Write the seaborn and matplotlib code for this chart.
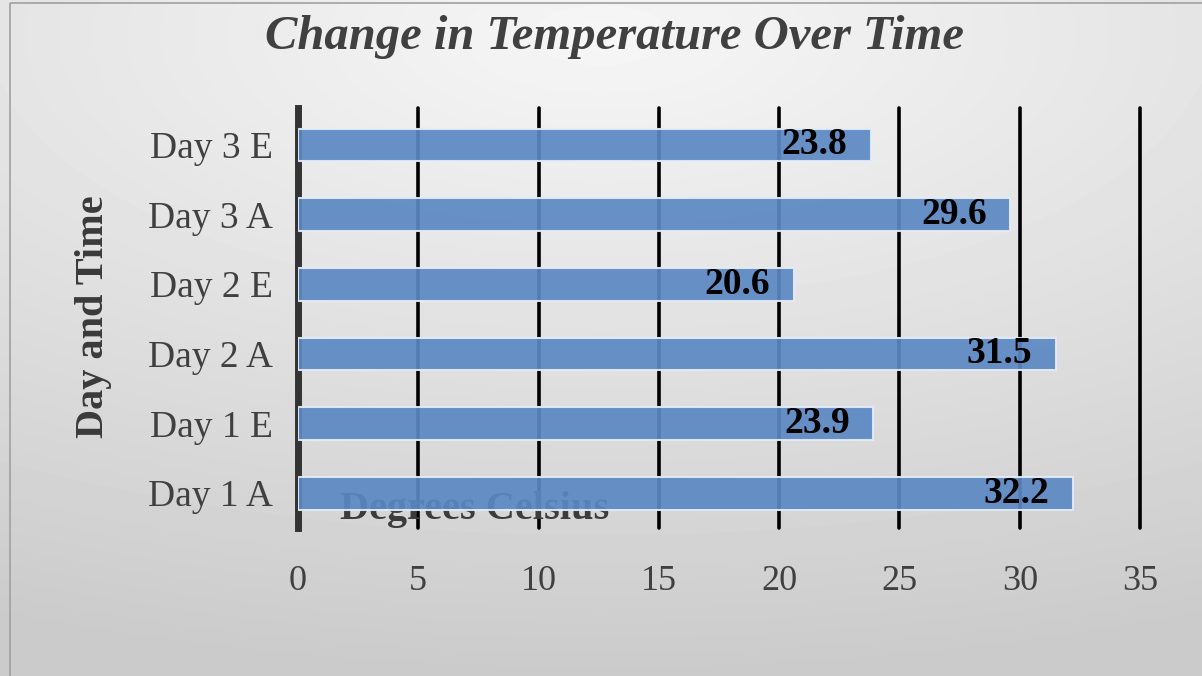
import numpy as np
import matplotlib
matplotlib.use("Agg")
import matplotlib.pyplot as plt
import seaborn as sns
from matplotlib.patches import Rectangle

# data
categories = ["Day 1 A", "Day 1 E", "Day 2 A", "Day 2 E", "Day 3 A", "Day 3 E"]
temps = [32.2, 23.9, 31.5, 20.6, 29.6, 23.8]
xticks = [0, 5, 10, 15, 20, 25, 30, 35]

BAR = "#5b88c3"
TXT = "#404040"

sns.set_style("white")
plt.rcParams["font.family"] = ["Liberation Serif", "DejaVu Serif"]

fig = plt.figure(figsize=(12.02, 6.76), dpi=100)

# gradient background, light at the top, gray at the bottom
bg = fig.add_axes([0, 0, 1, 1], zorder=-5)
yy, xx = np.mgrid[0:1:200j, 0:1:300j]
r = np.sqrt((xx - 0.5) ** 2 * 0.6 + (yy - 0.05) ** 2)
shade = 0.965 - 0.17 * np.clip(r / 0.95, 0, 1)
bg.imshow(shade, cmap="gray", vmin=0, vmax=1, aspect="auto",
          extent=[0, 1, 1, 0], interpolation="bicubic")
bg.set_xlim(0, 1)
bg.set_ylim(1, 0)
bg.add_patch(Rectangle((10 / 1202, 3 / 676), 1.2, 1.2, fill=False,
                       edgecolor="#a0a0a0", lw=1.2))
bg.axis("off")

ax = fig.add_axes([298 / 1202, 1 - 528 / 676, 842 / 1202, 420 / 676])
ax.patch.set_alpha(0)

order = categories[::-1]
sns.barplot(x=temps, y=categories, order=order, orient="h", color=BAR,
            width=0.47, saturation=1, alpha=0.92, edgecolor="#e4ecf6",
            linewidth=1.5, ax=ax, zorder=3)

ax.set_xlim(0, 35)
ax.set_ylim(5.5, -0.53)
ax.set_xticks(xticks)
ax.xaxis.grid(True, color="black", lw=2.6, zorder=0)
ax.set_axisbelow(True)
for gl in ax.get_xgridlines():
    gl.set_clip_on(False)
for s in ["top", "right", "bottom"]:
    ax.spines[s].set_visible(False)
ax.spines["left"].set_color("#333333")
ax.spines["left"].set_linewidth(5)
ax.spines["left"].set_zorder(1)

ax.tick_params(axis="both", length=0, labelsize=26, labelcolor=TXT)
ax.tick_params(axis="y", labelsize=27, pad=18)
ax.tick_params(axis="x", pad=27)

# value labels at the end of each bar
for cont in ax.containers:
    ax.bar_label(cont, labels=[f"{v:.1f}" for v in cont.datavalues],
                 label_type="edge", padding=-64, fontsize=27,
                 fontweight="bold", color="black", zorder=5)

# x-axis title ends up behind the bottom bar
ax.text(0.05, 0.045, "Degrees Celsius", transform=ax.transAxes,
        fontsize=29, fontweight="bold", color="#3c3c3c", zorder=1,
        ha="left", va="center")
ax.set_xlabel("")
ax.set_ylabel("Day and Time", fontsize=29, fontweight="bold",
              color="#3a3a3a")
ax.yaxis.set_label_coords(-0.221, 0.502)

fig.text(0.511, 0.946, "Change in Temperature Over Time", ha="center",
         va="center", fontsize=35, fontweight="bold", fontstyle="italic",
         color="#404040")

fig.savefig("out.png", dpi=100)
